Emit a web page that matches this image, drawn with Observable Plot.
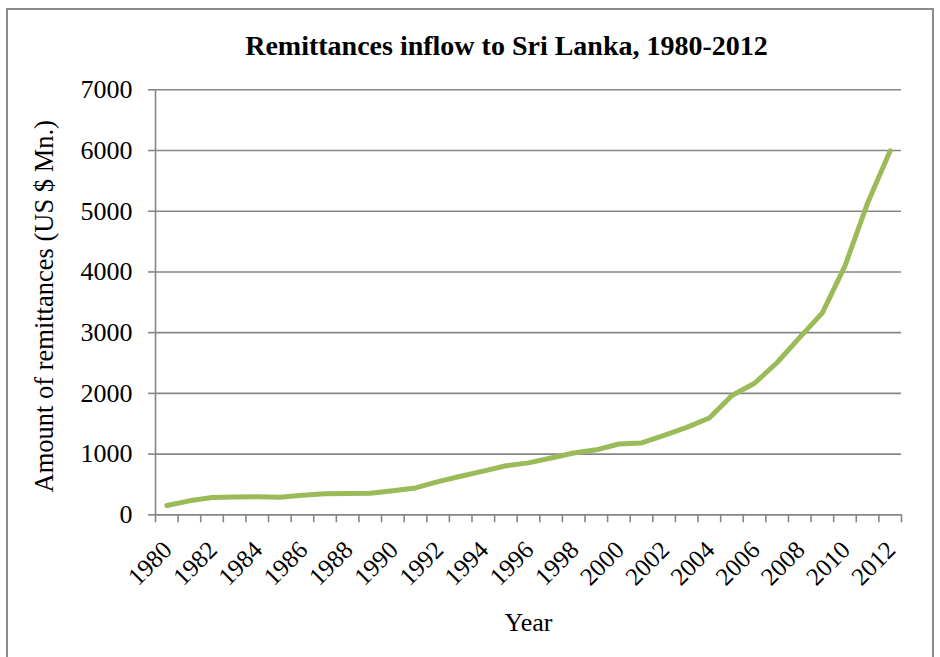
<!DOCTYPE html>
<html>
<head>
<meta charset="utf-8">
<script src="https://cdn.jsdelivr.net/npm/d3@7"></script>
<script src="https://cdn.jsdelivr.net/npm/@observablehq/plot@0.6"></script>
<style>
  html, body { margin: 0; padding: 0; background: #fff; }
  #wrap { position: relative; width: 940px; height: 657px; overflow: hidden; }
  #border { position: absolute; left: 6px; top: 8px; width: 928px; height: 700px; border: 2px solid #8c8c8c; box-sizing: border-box; pointer-events: none; }
  svg { overflow: visible; }
  svg text { font-family: "Liberation Serif", "Times New Roman", serif; }
</style>
</head>
<body>
<div id="wrap"><div id="border"></div></div>
<script>
const title = "Remittances inflow to Sri Lanka, 1980-2012";
const yLabel = "Amount of remittances (US $ Mn.)";
const xLabel = "Year";
const years = [1980,1981,1982,1983,1984,1985,1986,1987,1988,1989,1990,1991,1992,1993,1994,1995,1996,1997,1998,1999,2000,2001,2002,2003,2004,2005,2006,2007,2008,2009,2010,2011,2012];
const remittances = [152,230,285,292,298,290,322,348,352,354,395,442,546,634,720,808,855,935,1018,1070,1166,1183,1308,1440,1594,1966,2167,2508,2922,3326,4100,5135,5995];
const yTicks = [0,1000,2000,3000,4000,5000,6000,7000];
const xTickLabels = [1980,1982,1984,1986,1988,1990,1992,1994,1996,1998,2000,2002,2004,2006,2008,2010,2012];

const data = years.map((y, i) => ({year: y, value: remittances[i]}));
const boundaries = d3.range(years.length + 1).map(i => years[0] - 0.5 + i);
const gray = "#868686";
const serif = "Liberation Serif";

const chart = Plot.plot({
  width: 940,
  height: 657,
  marginLeft: 155,
  marginRight: 39,
  marginTop: 89.3,
  marginBottom: 142.7,
  style: {fontFamily: serif, fontSize: "26px", color: "black", background: "transparent"},
  x: {domain: [years[0] - 0.5, years[years.length - 1] + 0.5]},
  y: {domain: [0, 7000]},
  marks: [
    Plot.gridY({ticks: yTicks, stroke: gray, strokeOpacity: 1, strokeWidth: 1.6}),
    Plot.ruleX([years[0] - 0.5], {stroke: gray, strokeWidth: 1.6}),
    Plot.ruleY([0], {stroke: gray, strokeWidth: 1.6}),
    Plot.axisY({ticks: yTicks, tickSize: 7, tickPadding: 16, tickFormat: d => String(d), stroke: gray, strokeWidth: 1.6, fill: "black", label: null, fontSize: 26, fontFamily: serif}),
    Plot.axisX({ticks: boundaries, tickSize: 8, tickFormat: () => "", stroke: gray, strokeWidth: 1.6, label: null}),
    Plot.text(xTickLabels, {x: d => d, y: 0, text: d => String(d), rotate: -45, textAnchor: "end", dy: 31, dx: 1, fontSize: 25, fontFamily: serif, fill: "black"}),
    Plot.line(data, {x: "year", y: "value", stroke: "#9BBB59", strokeWidth: 5}),
    Plot.text([yLabel], {frameAnchor: "left", textAnchor: "middle", text: d => d, rotate: -90, dx: -111, dy: 4, fontSize: 26.5, fontFamily: serif, fill: "black"}),
    Plot.text([xLabel], {frameAnchor: "bottom", lineAnchor: "middle", text: d => d, dy: 108, fontSize: 26, fontFamily: serif, fill: "black"}),
    Plot.text([title], {frameAnchor: "top", lineAnchor: "middle", text: d => d, dy: -44, dx: -22, fontSize: 28, fontWeight: "bold", fontFamily: serif, fill: "black"})
  ]
});
document.getElementById("wrap").prepend(chart);
</script>
</body>
</html>
